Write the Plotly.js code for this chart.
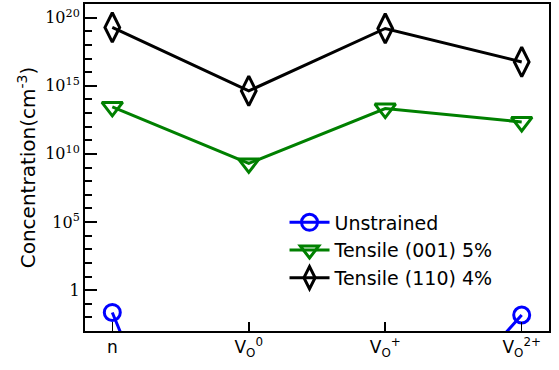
<!DOCTYPE html>
<html><head><meta charset="utf-8">
<script src="https://cdn.plot.ly/plotly-3.0.1.min.js"></script>
<style>body{margin:0;background:#fff}#c{width:559px;height:370px}</style>
</head><body><div id="c"></div>
<script>
var categories = [0, 1, 2, 3];
var catLabels = ["n", "V<sub>O</sub><sup>0</sup>", "V<sub>O</sub><sup>+</sup>", "V<sub>O</sub><sup>2+</sup>"];
var unstrained = [2.3e-2, 1e-26, 1e-13, 1.5e-2];
var tensile001 = [2.8e13, 2e9, 2.1e13, 2.2e12];
var tensile110 = [1.9e19, 4.2e14, 1.6e19, 5.6e16];
var majorVals = [1, 1e5, 1e10, 1e15, 1e20];
var majorText = ["1", "10<sup>5</sup>", "10<sup>10</sup>", "10<sup>15</sup>", "10<sup>20</sup>"];
var minorVals = [1e-2,1e-1,1e1,1e2,1e3,1e4,1e6,1e7,1e8,1e9,1e11,1e12,1e13,1e14,1e16,1e17,1e18,1e19];

var traces = [
 {x: categories, y: unstrained, name: "Unstrained", mode: "lines+markers",
  line: {color: "#0000ff", width: 3},
  marker: {symbol: "circle-open", size: 16, color: "#0000ff", line: {width: 3, color: "#0000ff"}}},
 {x: categories, y: tensile001, name: "Tensile (001) 5%", mode: "lines+markers",
  line: {color: "#008000", width: 3},
  marker: {symbol: "triangle-down-open", size: 18, color: "#008000", line: {width: 3, color: "#008000"}}},
 {x: categories, y: tensile110, name: "Tensile (110) 4%", mode: "lines+markers",
  line: {color: "#000000", width: 3},
  marker: {symbol: "diamond-tall-open", size: 21, color: "#000000", line: {width: 3, color: "#000000"}}}
];
var layout = {
 width: 559, height: 370,
 margin: {l: 85, r: 10, t: 4, b: 39},
 paper_bgcolor: "#fff", plot_bgcolor: "#fff",
 showlegend: true,
 legend: {x: 0.43, xanchor: "left", y: 0.39, yanchor: "top", bgcolor: "rgba(0,0,0,0)",
  font: {family: "DejaVu Sans", size: 19, color: "#000"}, itemwidth: 40, tracegroupgap: 0},
 xaxis: {range: [-0.2, 3.2], tickmode: "array", tickvals: categories, ticktext: catLabels,
  ticks: "inside", ticklen: 9, tickwidth: 1.5, tickcolor: "#000",
  showgrid: false, zeroline: false, showline: true, linewidth: 2, linecolor: "#000", mirror: true,
  tickfont: {family: "DejaVu Sans", size: 17, color: "#000"}},
 yaxis: {type: "log", range: [-3, 21], tickmode: "array", tickvals: majorVals, ticktext: majorText,
  ticks: "inside", ticklen: 12, tickwidth: 2, tickcolor: "#000",
  minor: {tickmode: "array", tickvals: minorVals, ticks: "inside", ticklen: 7, tickwidth: 2, tickcolor: "#000", showgrid: false},
  showgrid: false, zeroline: false, showline: true, linewidth: 2, linecolor: "#000", mirror: true,
  tickfont: {family: "DejaVu Serif", size: 16, color: "#000"},
  title: {text: "Concentration(cm<sup>-3</sup>)", font: {family: "DejaVu Sans", size: 20, color: "#000"}, standoff: 4}}
};
Plotly.newPlot("c", traces, layout, {displayModeBar: false, staticPlot: true});
</script></body></html>
